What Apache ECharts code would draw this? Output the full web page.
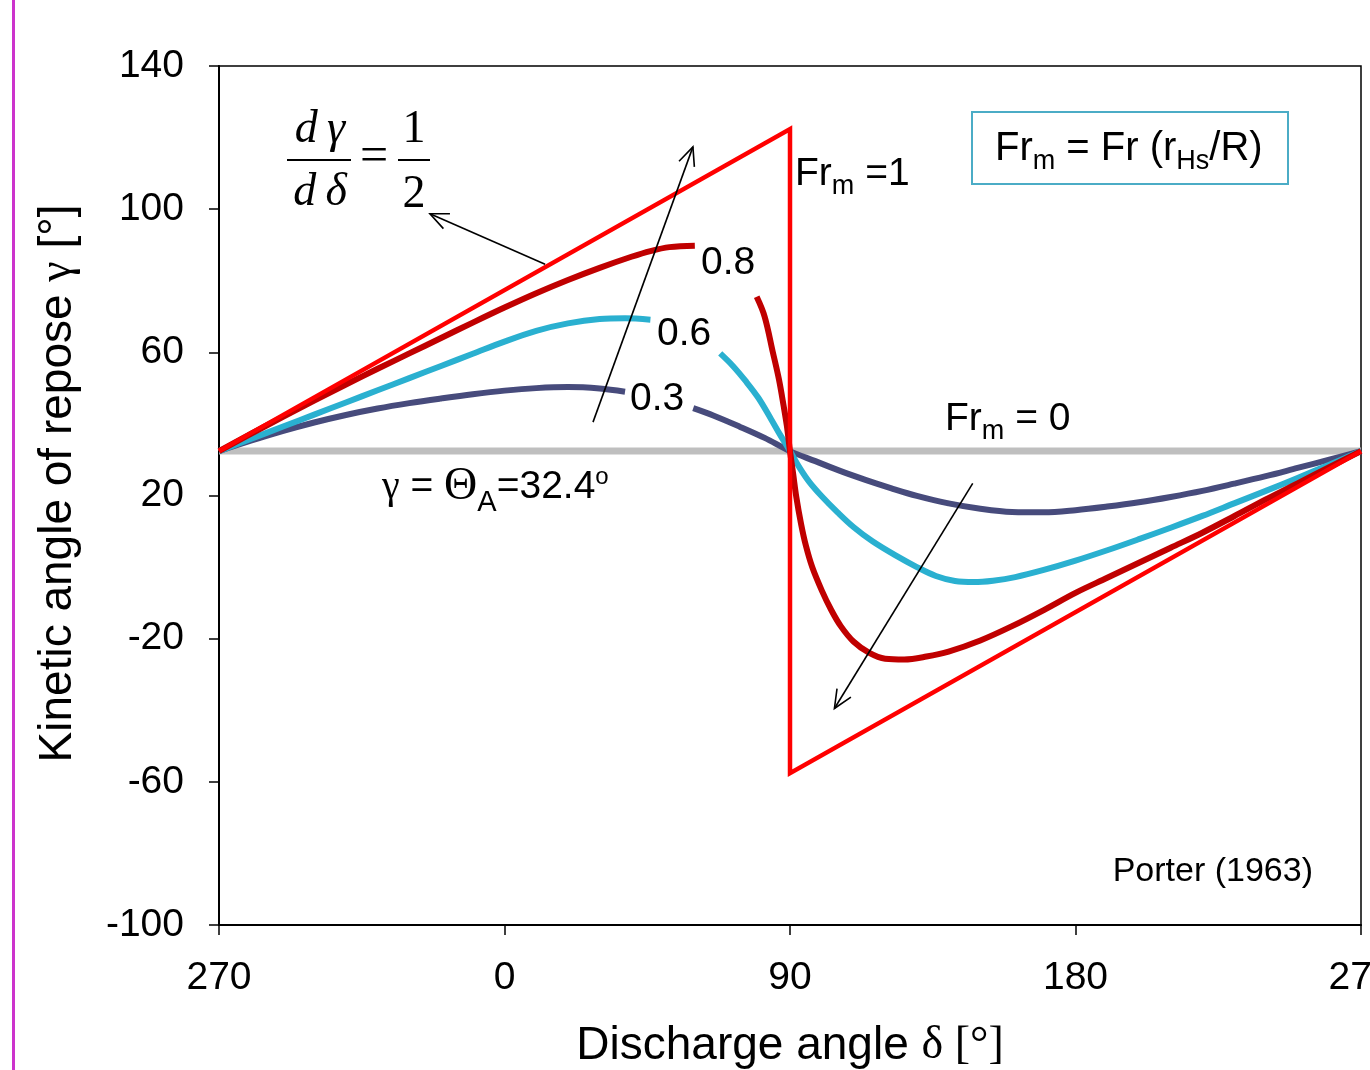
<!DOCTYPE html>
<html><head><meta charset="utf-8">
<script src="https://cdn.jsdelivr.net/npm/echarts@6/dist/echarts.min.js"></script>
<style>html,body{margin:0;padding:0;background:#fff}#c{width:1370px;height:1070px}</style>
</head><body><div id="c"></div>
<script>
// ---- data ----
const xTickValues = [-90, 0, 90, 180, 270];
const xTickLabels = ['270', '0', '90', '180', '270'];
const yTickValues = [-100, -60, -20, 20, 60, 100, 140];

const fr0X = [-90, 270];
const fr0Y = [32.4, 32.4];

const fr1X = [-90, 90, 90, 270];
const fr1Y = [32.4, 122.4, -57.6, 32.4];

const fr08X = [-90, -80, -70, -60, -50, -40, -30, -20, -10, 0, 10, 20, 30, 40, 46, 52, 60, 70, 79.5, 82, 84.6, 86.5, 88, 89, 90, 91, 92, 93.5, 95, 97, 100, 103, 106, 110, 115, 120, 126, 133, 140, 150, 160, 170, 180, 190, 200, 210, 220, 230, 240, 250, 260, 270];
const fr08Y = [32.4, 37.2, 41.9, 46.5, 51.0, 55.4, 59.7, 64.0, 68.3, 72.5, 76.5, 80.2, 83.6, 86.7, 88.3, 89.4, 89.8, null, 75.5, 70.0, 60.0, 52.5, 45.0, 39.5, 32.4, 26, 19.5, 12, 6, 0, -6.5, -12, -16.5, -20.8, -24, -25.6, -25.8, -25, -23.6, -20.5, -16.5, -12, -7.2, -3, 1.2, 5.4, 9.6, 14.2, 18.9, 23.4, 27.9, 32.4];

const fr06X = [-90, -80, -70, -60, -50, -40, -30, -20, -10, 0, 10, 20, 30, 38, 46, 57, 68, 72, 76, 80, 84, 87, 90, 93, 96, 100, 105, 110, 116, 123, 130, 136, 142, 148, 154, 161, 170, 180, 190, 200, 210, 220, 230, 240, 250, 260, 270];
const fr06Y = [32.4, 35.8, 39.2, 42.6, 46.0, 49.4, 52.8, 56.2, 59.6, 63.0, 66.0, 68.1, 69.3, 69.5, 69.1, null, 59.7, 56.2, 52.0, 47.3, 41.4, 36.8, 32.4, 27.8, 23.9, 19.8, 15.3, 11.2, 7.2, 3.4, 0.0, -2.5, -3.9, -4.2, -3.8, -2.8, -0.8, 1.8, 4.7, 7.8, 11.0, 14.3, 17.8, 21.3, 24.9, 28.6, 32.4];

const fr03X = [-90, -80, -70, -60, -50, -40, -30, -20, -10, 0, 10, 20, 30, 38, 50, 59.5, 66, 74, 82, 90, 98, 106, 114, 122, 130, 140, 150, 160, 170, 180, 190, 200, 210, 220, 230, 240, 250, 260, 270];
const fr03Y = [32.4, 35.3, 38.0, 40.4, 42.5, 44.3, 45.8, 47.1, 48.3, 49.3, 50.0, 50.3, 49.9, 49.0, null, 44.4, 42.3, 39.3, 36.1, 32.4, 29.6, 26.8, 24.3, 22.0, 19.9, 17.8, 16.3, 15.4, 15.3, 15.9, 16.9, 18.1, 19.6, 21.3, 23.3, 25.4, 27.7, 30.0, 32.4];

// annotation arrows in data coordinates [from, to]
const arrowUp = [[27.9, 40.5], [59.4, 117.4]];
const arrowDown = [[147.6, 23.4], [104, -39.5]];
const arrowSlope = [[12.8, 84.6], [-23.5, 98.7]];

// ---- chart ----
const SANS = '"Liberation Sans", Arial, sans-serif';
const SERIF = '"Liberation Serif", "Times New Roman", serif';
const chart = echarts.init(document.getElementById('c'), null, {renderer: 'canvas'});

function pairs(xs, ys) { return xs.map((x, i) => ys[i] === null ? [x, '-'] : [x, ys[i]]); }
function lineSeries(name, xs, ys, color, width, smooth, z) {
  return {
    name, type: 'line', data: pairs(xs, ys), symbol: 'none', smooth: smooth,
    connectNulls: false, silent: true, z: z,
    itemStyle: {color}, lineStyle: {color, width, join: 'miter', cap: 'butt'}
  };
}

const option = {
  animation: false,
  backgroundColor: '#ffffff',
  grid: {left: 219, right: 9, top: 66, bottom: 145, show: true, borderColor: '#000', borderWidth: 1.5,
    containLabel: false, outerBoundsMode: 'none'},
  xAxis: {
    type: 'value', min: -90, max: 270, interval: 90,
    axisLine: {show: true, onZero: false, lineStyle: {color: '#000', width: 2}},
    axisTick: {show: true, length: 10, customValues: xTickValues, lineStyle: {color: '#000', width: 1.5}},
    axisLabel: {customValues: xTickValues, formatter: v => xTickLabels[xTickValues.indexOf(v)],
      fontSize: 39, color: '#000', fontFamily: SANS, margin: 34},
    splitLine: {show: false},
    name: '{a|Discharge angle }{g|δ [°]}', nameLocation: 'middle', nameGap: 98,
    nameTextStyle: {rich: {a: {fontSize: 46, fontFamily: SANS, color: '#000'}, g: {fontSize: 46, fontFamily: SERIF, color: '#000'}}}
  },
  yAxis: {
    type: 'value', min: -100, max: 140,
    axisLine: {show: true, onZero: false, lineStyle: {color: '#000', width: 2}},
    axisTick: {show: true, length: 10, customValues: yTickValues, lineStyle: {color: '#000', width: 1.5}},
    axisLabel: {customValues: yTickValues, fontSize: 39, color: '#000', fontFamily: SANS, margin: 35},
    splitLine: {show: false},
    name: '{a|Kinetic angle of repose }{g|γ}{a| [°]}', nameLocation: 'middle', nameRotate: 90, nameGap: 138,
    nameTextStyle: {padding: [0, 0, 0, 24], rich: {a: {fontSize: 46, fontFamily: SANS, color: '#000'}, g: {fontSize: 46, fontFamily: SERIF, color: '#000'}}}
  },
  series: [
    lineSeries('Fr_m = 0', fr0X, fr0Y, '#bfbfbf', 7, false, 2),
    lineSeries('0.3', fr03X, fr03Y, '#474b7c', 6, 0.35, 3),
    lineSeries('0.6', fr06X, fr06Y, '#2ab0d0', 6, 0.35, 4),
    lineSeries('0.8', fr08X, fr08Y, '#c00000', 6, 0.35, 5),
    lineSeries('Fr_m = 1', fr1X, fr1Y, '#ff0000', 4.5, false, 6)
  ]
};
chart.setOption(option);

// ---- annotations ----
function arrowGraphics(seg) {
  const p0 = chart.convertToPixel({gridIndex: 0}, seg[0]);
  const p1 = chart.convertToPixel({gridIndex: 0}, seg[1]);
  const a = Math.atan2(p1[1] - p0[1], p1[0] - p0[0]);
  const L = 20, h = 0.42;
  const s1 = [p1[0] - L * Math.cos(a - h), p1[1] - L * Math.sin(a - h)];
  const s2 = [p1[0] - L * Math.cos(a + h), p1[1] - L * Math.sin(a + h)];
  return [
    {type: 'line', z: 100, shape: {x1: p0[0], y1: p0[1], x2: p1[0], y2: p1[1]}, style: {stroke: '#000', lineWidth: 1.6}},
    {type: 'polyline', z: 100, shape: {points: [s1, p1, s2]}, style: {stroke: '#000', lineWidth: 1.6, fill: null}}
  ];
}
function txt(x, y, text, rich, align) {
  return {type: 'text', x, y, z: 101, style: {text, rich, align: align || 'left', verticalAlign: 'middle', fill: '#000',
    font: '39px ' + SANS}};
}
const main = {fontSize: 39, fontFamily: SANS, fill: '#000'};
const sub = {fontSize: 27, fontFamily: SANS, fill: '#000', padding: [26, 0, 0, 0]};

const g = [];
g.push({type: 'rect', z: 0, shape: {x: 12, y: 0, width: 3, height: 1070}, style: {fill: '#cc33cc'}});
arrowGraphics(arrowUp).forEach(e => g.push(e));
arrowGraphics(arrowDown).forEach(e => g.push(e));
arrowGraphics(arrowSlope).forEach(e => g.push(e));

g.push(txt(795, 174, '{a|Fr}{s|m}{a| =1}', {a: main, s: sub}));
g.push(txt(701, 263, '{a|0.8}', {a: main}));
g.push(txt(657, 334, '{a|0.6}', {a: main}));
g.push(txt(630, 399, '{a|0.3}', {a: main}));
g.push(txt(945, 419, '{a|Fr}{s|m}{a| = 0}', {a: main, s: sub}));
g.push(txt(382, 487, '{g|γ}{a| = }{t|Θ}{s|A}{a|=32.4}{o|o}',
  {a: main, g: {fontSize: 40, fontFamily: SERIF, fill: '#000'}, t: {fontSize: 46, fontFamily: SERIF, fill: '#000'},
   s: {fontSize: 29, fontFamily: SANS, fill: '#000', padding: [32, 0, 0, 0]},
   o: {fontSize: 24, fontFamily: SANS, fill: '#000', padding: [0, 0, 20, 0]}}));
g.push({type: 'rect', z: 100, shape: {x: 972, y: 112, width: 316, height: 72}, style: {fill: '#fff', stroke: '#4bacc6', lineWidth: 2}});
g.push(txt(995, 149, '{a|Fr}{s|m}{a| = Fr (r}{s|Hs}{a|/R)}', {a: {fontSize: 40, fontFamily: SANS, fill: '#000'}, s: sub}));
g.push(txt(1313, 872, '{a|Porter (1963)}', {a: {fontSize: 34, fontFamily: SANS, fill: '#000'}}, 'right'));

// fraction dγ/dδ = 1/2
const fracFont = 'italic 46px ' + SERIF;
g.push({type: 'text', z: 101, x: 320, y: 130, style: {text: 'd\u2009γ', font: fracFont, fill: '#000', align: 'center', verticalAlign: 'middle'}});
g.push({type: 'line', z: 101, shape: {x1: 287, y1: 160, x2: 351, y2: 160}, style: {stroke: '#000', lineWidth: 2}});
g.push({type: 'text', z: 101, x: 320, y: 193, style: {text: 'd\u2009δ', font: fracFont, fill: '#000', align: 'center', verticalAlign: 'middle'}});
g.push({type: 'text', z: 101, x: 374, y: 158, style: {text: '=', font: '50px ' + SERIF, fill: '#000', align: 'center', verticalAlign: 'middle'}});
g.push({type: 'text', z: 101, x: 414, y: 130, style: {text: '1', font: '46px ' + SERIF, fill: '#000', align: 'center', verticalAlign: 'middle'}});
g.push({type: 'line', z: 101, shape: {x1: 398, y1: 160, x2: 430, y2: 160}, style: {stroke: '#000', lineWidth: 2}});
g.push({type: 'text', z: 101, x: 414, y: 195, style: {text: '2', font: '46px ' + SERIF, fill: '#000', align: 'center', verticalAlign: 'middle'}});

chart.setOption({graphic: g});
</script>
</body></html>
